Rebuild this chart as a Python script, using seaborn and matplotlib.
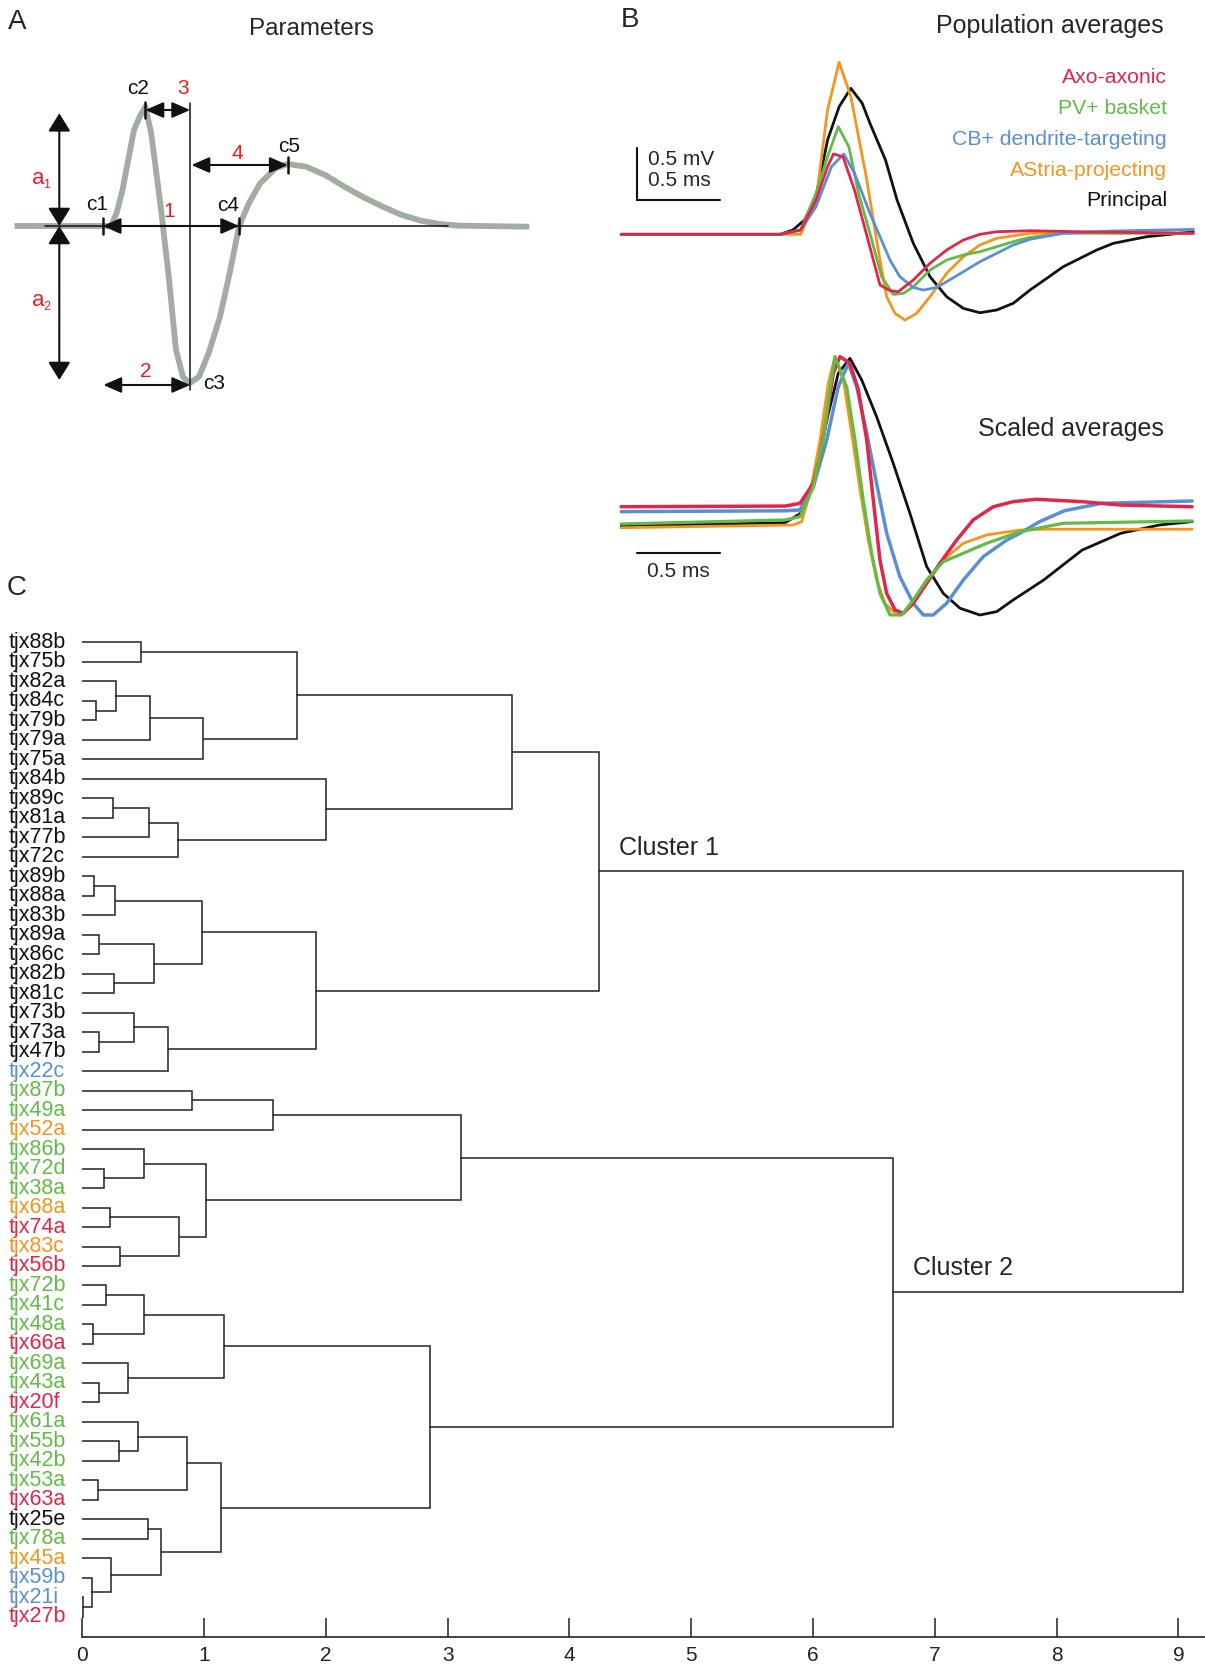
import numpy as np
import pandas as pd
import matplotlib
matplotlib.use("Agg")
import matplotlib.pyplot as plt
import seaborn as sns

W, H = 1205, 1668

# ---------------- Panel A: schematic spike (schematic units) ----------------
schem_x = [14.5, 111, 116.7, 122.5, 128.2, 134, 139.7, 145.4, 151.2, 160.7, 168.4, 176, 182.9,
           189.4, 199, 208.6, 220, 229.6, 239.2, 248.8, 260.2, 275.5, 287.8, 306, 325.3, 344.4,
           363.6, 382.7, 401.8, 421, 440.1, 459.2, 529.3]
schem_y = [0, 0, 13.3, 36, 66, 96, 109.3, 119.3, 92.7, 19.3, -47.3, -124, -150.7,
           -157.3, -150.7, -127.3, -90.7, -47.3, 0, 22.7, 42.7, 57.7, 62, 59.3, 51, 39.3,
           28.7, 19.3, 11, 5.3, 2, 0.3, -0.7]

# ---------------- Panel B: population averages (ms, mV) ----------------
pop_principal_t = [0, 0.95, 1.026, 1.095, 1.164, 1.233, 1.302, 1.372, 1.440, 1.486, 1.579, 1.648, 1.745,
                   1.845, 1.944, 2.044, 2.143, 2.243, 2.342, 2.442, 2.542, 2.641, 2.741, 2.840, 2.940,
                   3.139, 3.338, 3.418]
pop_principal_v = [0, 0, 0.042, 0.138, 0.364, 0.912, 1.234, 1.412, 1.267, 1.074, 0.719, 0.332, -0.087,
                   -0.410, -0.603, -0.716, -0.758, -0.732, -0.667, -0.539, -0.426, -0.313, -0.232, -0.152, -0.087,
                   -0.023, 0.010, 0.025]
pop_astria_t = [0, 1.072, 1.164, 1.233, 1.302, 1.372, 1.464, 1.546, 1.586, 1.636, 1.695, 1.765, 1.845,
                1.944, 2.044, 2.143, 2.243, 2.442, 2.741, 3.418]
pop_astria_v = [0, 0, 0.332, 1.202, 1.663, 1.331, 0.557, -0.249, -0.603, -0.764, -0.829, -0.764, -0.603,
                -0.377, -0.217, -0.103, -0.039, 0.010, 0.019, 0.010]
pop_pv_t = [0, 0.95, 1.072, 1.164, 1.233, 1.297, 1.360, 1.418, 1.486, 1.556, 1.626, 1.686, 1.745, 1.845,
            1.944, 2.044, 2.143, 2.243, 2.342, 2.442, 2.641, 3.418]
pop_pv_v = [0, 0, 0.042, 0.397, 0.750, 1.041, 0.847, 0.397, 0.010, -0.410, -0.581, -0.571, -0.507, -0.345,
            -0.249, -0.200, -0.168, -0.120, -0.071, -0.029, 0.010, 0.010]
pop_cb_t = [0, 0.95, 1.072, 1.164, 1.256, 1.330, 1.394, 1.486, 1.546, 1.606, 1.665, 1.745, 1.805, 1.885,
            1.944, 2.044, 2.143, 2.243, 2.342, 2.442, 2.641, 2.940, 3.418]
pop_cb_v = [0, 0, 0.042, 0.267, 0.654, 0.777, 0.590, 0.203, -0.023, -0.249, -0.410, -0.513, -0.539, -0.513,
            -0.458, -0.362, -0.265, -0.184, -0.103, -0.048, 0.010, 0.032, 0.048]
pop_axo_t = [0, 0.95, 1.072, 1.164, 1.233, 1.268, 1.325, 1.394, 1.464, 1.546, 1.606, 1.655, 1.745, 1.845,
             1.944, 2.044, 2.143, 2.243, 2.442, 2.741, 3.418]
pop_axo_v = [0, 0, 0.042, 0.332, 0.654, 0.777, 0.750, 0.428, 0.010, -0.490, -0.545, -0.555, -0.442, -0.280,
             -0.152, -0.055, 0, 0.025, 0.035, 0.025, 0.010]

# ---------------- Panel B: scaled averages (ms, normalised) ----------------
sc_principal_t = [0, 0.98, 1.072, 1.164, 1.233, 1.297, 1.367, 1.437, 1.526, 1.625, 1.725, 1.825, 1.924,
                  2.024, 2.143, 2.243, 2.342, 2.524, 2.754, 2.984, 3.215, 3.411]
sc_principal_v = [0.004, 0.024, 0.079, 0.316, 0.650, 0.907, 0.995, 0.867, 0.650, 0.375, 0.079, -0.236, -0.394,
                  -0.482, -0.522, -0.502, -0.433, -0.315, -0.138, -0.039, 0.010, 0.030]
sc_astria_t = [0, 1.028, 1.078, 1.128, 1.188, 1.237, 1.277, 1.327, 1.377, 1.427, 1.476, 1.526, 1.576,
               1.625, 1.685, 1.745, 1.825, 1.924, 2.044, 2.183, 2.382, 2.524, 3.411]
sc_astria_v = [-0.006, 0.010, 0.030, 0.197, 0.512, 0.847, 1.005, 0.867, 0.552, 0.217, -0.079, -0.315, -0.453,
               -0.502, -0.512, -0.453, -0.335, -0.197, -0.098, -0.049, -0.020, -0.015, -0.015]
sc_pv_t = [0, 0.98, 1.068, 1.148, 1.207, 1.247, 1.277, 1.347, 1.397, 1.446, 1.496, 1.546, 1.606, 1.676,
           1.745, 1.825, 1.924, 2.044, 2.183, 2.382, 2.639, 3.411]
sc_pv_v = [0.016, 0.040, 0.059, 0.236, 0.512, 0.808, 1.005, 0.827, 0.512, 0.158, -0.157, -0.394, -0.522, -0.522,
           -0.433, -0.315, -0.207, -0.157, -0.098, -0.030, 0.020, 0.034]
sc_cb_t = [0, 0.98, 1.068, 1.148, 1.228, 1.297, 1.357, 1.407, 1.467, 1.526, 1.586, 1.665, 1.745, 1.805,
           1.864, 1.944, 2.044, 2.163, 2.303, 2.382, 2.50, 2.65, 2.87, 3.411]
sc_cb_v = [0.089, 0.094, 0.099, 0.236, 0.512, 0.827, 0.966, 0.827, 0.552, 0.256, -0.039, -0.296, -0.453, -0.522,
           -0.522, -0.453, -0.315, -0.177, -0.079, -0.039, 0.030, 0.095, 0.138, 0.152]
sc_axo_t = [0, 0.98, 1.068, 1.148, 1.188, 1.228, 1.267, 1.307, 1.367, 1.417, 1.467, 1.506, 1.546, 1.586,
            1.636, 1.685, 1.745, 1.825, 1.904, 2.004, 2.103, 2.223, 2.342, 2.478, 2.754, 2.984, 3.411]
sc_axo_v = [0.118, 0.122, 0.138, 0.256, 0.414, 0.650, 0.907, 1.005, 0.966, 0.808, 0.512, 0.158, -0.197, -0.394,
            -0.492, -0.512, -0.453, -0.335, -0.216, -0.079, 0.040, 0.118, 0.148, 0.162, 0.148, 0.128, 0.118]

cell_types = ["Axo-axonic", "PV+ basket", "CB+ dendrite-targeting", "AStria-projecting", "Principal"]
type_colors = {"Axo-axonic": "#e2264a", "PV+ basket": "#62bb46", "CB+ dendrite-targeting": "#5b8fd4",
               "AStria-projecting": "#f7941d", "Principal": "#111111"}

# ---------------- Panel C: dendrogram ----------------
leaf_labels = ["tjx88b", "tjx75b", "tjx82a", "tjx84c", "tjx79b", "tjx79a", "tjx75a", "tjx84b", "tjx89c",
               "tjx81a", "tjx77b", "tjx72c", "tjx89b", "tjx88a", "tjx83b", "tjx89a", "tjx86c", "tjx82b",
               "tjx81c", "tjx73b", "tjx73a", "tjx47b", "tjx22c", "tjx87b", "tjx49a", "tjx52a", "tjx86b",
               "tjx72d", "tjx38a", "tjx68a", "tjx74a", "tjx83c", "tjx56b", "tjx72b", "tjx41c", "tjx48a",
               "tjx66a", "tjx69a", "tjx43a", "tjx20f", "tjx61a", "tjx55b", "tjx42b", "tjx53a", "tjx63a",
               "tjx25e", "tjx78a", "tjx45a", "tjx59b", "tjx21i", "tjx27b"]
leaf_types = (["Principal"] * 22 + ["CB+ dendrite-targeting", "PV+ basket", "PV+ basket", "AStria-projecting",
              "PV+ basket", "PV+ basket", "PV+ basket", "AStria-projecting", "Axo-axonic", "AStria-projecting",
              "Axo-axonic", "PV+ basket", "PV+ basket", "PV+ basket", "Axo-axonic", "PV+ basket", "PV+ basket",
              "Axo-axonic", "PV+ basket", "PV+ basket", "PV+ basket", "PV+ basket", "Axo-axonic", "Principal",
              "PV+ basket", "AStria-projecting", "CB+ dendrite-targeting", "CB+ dendrite-targeting", "Axo-axonic"])
# merges: (child a, child b, height); ids >= 51 refer to earlier merges (51 + row index)
merge_a = [3, 2, 52, 53, 0, 55, 8, 57, 58, 7, 56, 12, 62, 15, 17, 64, 63, 20, 19, 69, 67, 61,
           23, 73, 27, 26, 29, 31, 77, 76, 74, 33, 35, 82, 38, 37, 84, 41, 40, 43, 89, 45, 49, 48, 47, 92, 91, 87, 81, 72]
merge_b = [4, 51, 5, 6, 1, 54, 9, 10, 11, 59, 60, 13, 14, 16, 18, 65, 66, 21, 68, 22, 70, 71,
           24, 25, 28, 75, 30, 32, 78, 79, 80, 34, 36, 83, 39, 85, 86, 42, 88, 44, 90, 46, 50, 93, 94, 95, 96, 97, 98, 99]
merge_h = [0.11, 0.275, 0.56, 0.99, 0.485, 1.766, 0.255, 0.546, 0.79, 2.0, 3.53, 0.097, 0.267, 0.14, 0.259,
           0.592, 0.984, 0.14, 0.423, 0.704, 1.922, 4.24,
           0.90, 1.57, 0.179, 0.51, 0.23, 0.31, 0.795, 1.016, 3.106, 0.193, 0.086, 0.51, 0.14, 0.374, 1.162,
           0.303, 0.461, 0.133, 0.859, 0.543, 0.007, 0.082, 0.24, 0.65, 1.136, 2.853, 6.66, 9.035]
dist_ticks = list(range(10))

# ---------------- style ----------------
sns.set_theme(style="white")
plt.rcParams["font.family"] = ["Liberation Sans", "DejaVu Sans"]
plt.rcParams["axes.facecolor"] = "white"

fig = plt.figure(figsize=(W / 100, H / 100), dpi=100)


def px_axes(x0, y0, x1, y1):
    ax = fig.add_axes([x0 / W, 1 - y1 / H, (x1 - x0) / W, (y1 - y0) / H])
    ax.set_facecolor("none")
    return ax


def ftext(x, y, s, **kw):
    fig.text(x / W, 1 - y / H, s, **kw)


# ================= Panel A =================
axA = px_axes(0, 0, 600, 470)
axA.set_xlim(0, 600)
axA.set_ylim(-244, 226)
axA.axis("off")
dfA = pd.DataFrame({"x": schem_x, "y": schem_y})
sns.lineplot(data=dfA, x="x", y="y", sort=False, estimator=None, ax=axA, color="#a2aca3", lw=4.2,
             solid_joinstyle="round", solid_capstyle="butt", zorder=1)
K = "#111111"
axA.plot([45, 448], [0, 0], color=K, lw=1.1, zorder=2)
axA.plot([190.2, 190.2], [122.7, -164], color=K, lw=1.1, zorder=2)


def darrow(x0, y0, x1, y1, big=False):
    hl, hw = (1.1, 0.68) if big else (1.1, 0.48)
    axA.annotate("", xy=(x1, y1), xytext=(x0, y0),
                 arrowprops=dict(arrowstyle=f"<|-|>,head_length={hl},head_width={hw}", color=K, lw=1.5,
                                 shrinkA=0, shrinkB=0, mutation_scale=10), zorder=3)


darrow(59.3, 0, 59.3, 112.7, big=True)
darrow(59.3, 0, 59.3, -154, big=True)
darrow(145.4, 116, 190.2, 116)
darrow(191.4, 61, 287.8, 61)
darrow(102.6, 0, 239.2, 0)
darrow(103.3, -159, 190.2, -159)
for mx, my in [(102.6, 0), (145.4, 116), (239.2, 0), (287.8, 61)]:
    axA.plot([mx, mx], [my - 8, my + 8], color=K, lw=1.8, zorder=3)

RED = "#ee1c25"
lab = dict(fontsize=15, ha="center", va="center")
axA.text(97.6, 21, "c1", color=K, **lab)
axA.text(138.5, 137.7, "c2", color=K, **lab)
axA.text(214.3, -157.3, "c3", color=K, **lab)
axA.text(227.7, 20.3, "c4", color=K, **lab)
axA.text(289, 79.3, "c5", color=K, **lab)
axA.text(169, 14.3, "1", color=RED, **lab)
axA.text(145.4, -145.7, "2", color=RED, **lab)
axA.text(183, 137.7, "3", color=RED, **lab)
axA.text(237, 72.7, "4", color=RED, **lab)
axA.text(38, 48, "a", color=RED, fontsize=16, ha="center", va="center")
axA.text(46.5, 41, "1", color=RED, fontsize=9, ha="center", va="center")
axA.text(38, -74, "a", color=RED, fontsize=16, ha="center", va="center")
axA.text(46.5, -81, "2", color=RED, fontsize=9, ha="center", va="center")

ftext(17, 22, "A", fontsize=20, ha="center", va="center")
ftext(311, 29, "Parameters", fontsize=17.5, ha="center", va="center")


# ================= Panel B (population) =================
def trace_df(pairs):
    rows = []
    for name, t, v in pairs:
        rows.append(pd.DataFrame({"t": t, "v": v, "cell": name}))
    return pd.concat(rows, ignore_index=True)


axP = px_axes(612.8, 53.35, 1198.7, 327.4)
axP.set_xlim(-0.05, 3.45)
axP.set_ylim(-0.9, 1.75)
axP.axis("off")
dfP = trace_df([("Principal", pop_principal_t, pop_principal_v),
                ("AStria-projecting", pop_astria_t, pop_astria_v),
                ("PV+ basket", pop_pv_t, pop_pv_v),
                ("CB+ dendrite-targeting", pop_cb_t, pop_cb_v),
                ("Axo-axonic", pop_axo_t, pop_axo_v)])
order_pop = ["Principal", "AStria-projecting", "PV+ basket", "CB+ dendrite-targeting", "Axo-axonic"]
for name in order_pop:
    sns.lineplot(data=dfP[dfP.cell == name], x="t", y="v", sort=False, estimator=None, ax=axP,
                 color=type_colors[name], lw=2.0, legend=False)
axP.plot([0.093, 0.093, 0.593], [0.832, 0.332, 0.332], color=K, lw=1.5, solid_joinstyle="miter")
axP.text(0.161, 0.725, "0.5 mV", fontsize=15, ha="left", va="center")
axP.text(0.161, 0.525, "0.5 ms", fontsize=15, ha="left", va="center")

ftext(630, 20, "B", fontsize=20, ha="center", va="center")
ftext(1164, 26, "Population averages", fontsize=18, ha="right", va="center")
leg_y = [77.3, 108.3, 139.3, 170, 200]
for name, yy in zip(cell_types, leg_y):
    ftext(1167, yy, name, fontsize=15.3, ha="right", va="center", color=type_colors[name])

# ================= Panel B (scaled) =================
axS = px_axes(612.8, 340.6, 1198.7, 628.2)
axS.set_xlim(-0.05, 3.45)
axS.set_ylim(-0.6, 1.1)
axS.axis("off")
dfS = trace_df([("Principal", sc_principal_t, sc_principal_v),
                ("AStria-projecting", sc_astria_t, sc_astria_v),
                ("CB+ dendrite-targeting", sc_cb_t, sc_cb_v),
                ("PV+ basket", sc_pv_t, sc_pv_v),
                ("Axo-axonic", sc_axo_t, sc_axo_v)])
lw_sc = {"Principal": 2.0, "AStria-projecting": 2.0, "CB+ dendrite-targeting": 2.5, "PV+ basket": 2.3,
         "Axo-axonic": 2.5}
for name in ["Principal", "AStria-projecting", "CB+ dendrite-targeting", "Axo-axonic", "PV+ basket"]:
    sns.lineplot(data=dfS[dfS.cell == name], x="t", y="v", sort=False, estimator=None, ax=axS,
                 color=type_colors[name], lw=lw_sc[name], legend=False)
axS.plot([0.093, 0.593], [-0.154, -0.154], color=K, lw=1.5)
axS.text(0.341, -0.266, "0.5 ms", fontsize=15, ha="center", va="center")
ftext(1164, 429.3, "Scaled averages", fontsize=18, ha="right", va="center")

# ================= Panel C: dendrogram =================
axC = px_axes(82.2, 600, 1205, 1636.7)
axC.set_xlim(0, 9.218)
axC.set_ylim(51.02, -2.17)
n_leaf = len(leaf_labels)
pos = {i: (0.0, float(i)) for i in range(n_leaf)}
for k, (a, b, h) in enumerate(zip(merge_a, merge_b, merge_h)):
    ha_, ya = pos[a]
    hb, yb = pos[b]
    axC.plot([ha_, h, h, hb], [ya, ya, yb, yb], color="#222222", lw=1.1, solid_joinstyle="miter")
    pos[n_leaf + k] = (h, (ya + yb) / 2)

for i, (lbl, ct) in enumerate(zip(leaf_labels, leaf_types)):
    axC.text(-0.605, i, lbl, fontsize=15.5, ha="left", va="center", color=type_colors[ct], clip_on=False)

axC.text(4.41, 10.55, "Cluster 1", fontsize=18, ha="left", va="center")
axC.text(6.82, 32.1, "Cluster 2", fontsize=18, ha="left", va="center")

for s in ["top", "right", "left"]:
    axC.spines[s].set_visible(False)
axC.spines["bottom"].set_color("#222222")
axC.spines["bottom"].set_linewidth(1.2)
axC.set_xticks(dist_ticks)
axC.set_xticklabels([str(t) for t in dist_ticks])
axC.set_yticks([])
axC.tick_params(axis="x", direction="in", length=14, width=1.1, pad=7, labelsize=15, colors="#222222",
                bottom=True)
axC.set_xlabel("")
axC.set_ylabel("")
ftext(17, 588, "C", fontsize=20, ha="center", va="center")

fig.savefig("out.png", dpi=100)
